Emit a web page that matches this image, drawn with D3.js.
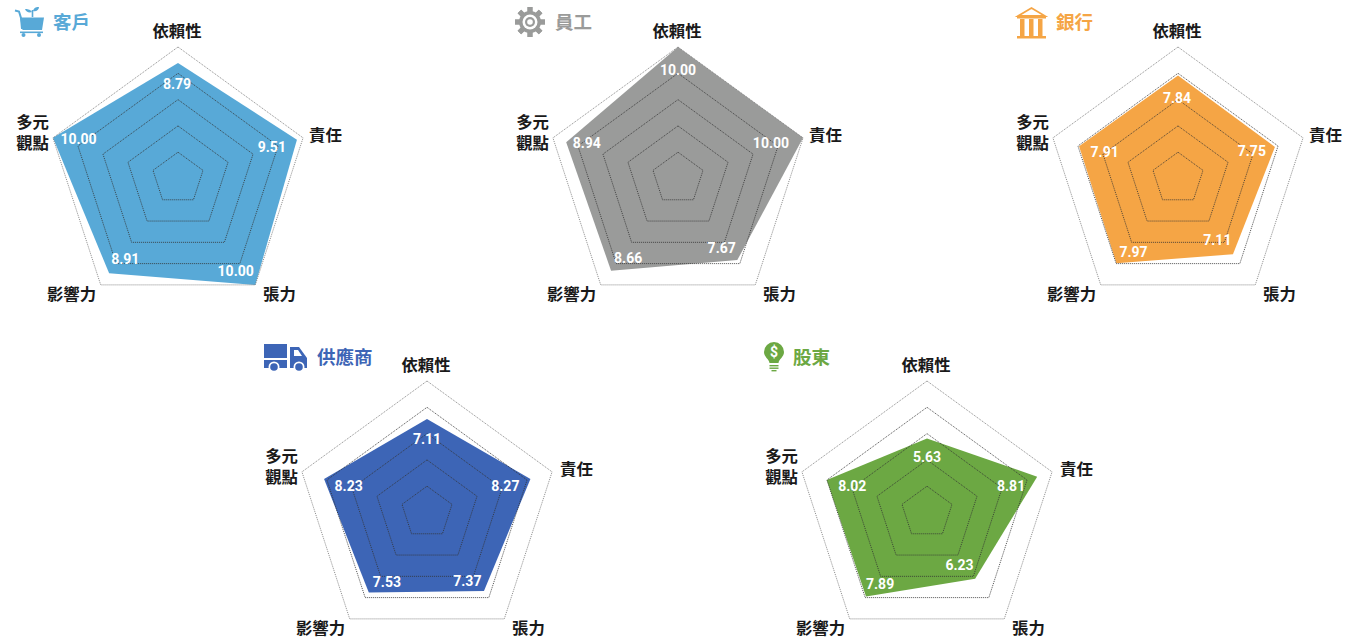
<!DOCTYPE html>
<html>
<head>
<meta charset="utf-8">
<script src="https://cdnjs.cloudflare.com/ajax/libs/d3/7.8.5/d3.min.js"></script>
<style>
  html, body { margin: 0; padding: 0; background: #fff; overflow: hidden; }
  svg { display: block; }
  text { font-family: "Noto Sans CJK TC", sans-serif; }
</style>
</head>
<body>
<div id="chart"></div>
<script>
/* five radar charts, one per stakeholder */
const axes = ['依賴性', '責任', '張力', '影響力', '多元觀點'];
const rings = [2, 4, 6, 8, 10];
const customer = [8.79, 9.51, 10, 8.91, 10];
const staff = [10, 10, 7.67, 8.66, 8.94];
const bank = [7.84, 7.75, 7.11, 7.97, 7.91];
const supplier = [7.11, 8.27, 7.37, 7.53, 8.23];
const holder = [5.63, 8.81, 6.23, 7.89, 8.02];

const W = 1346, H = 638, R = 131.5;
const r = d3.scaleLinear().domain([0, 10]).range([0, R]);
const angle = d3.scalePoint().domain(d3.range(axes.length)).range([0, 2 * Math.PI * 4 / 5]);
const radar = d3.lineRadial().angle((d, i) => angle(i)).radius(d => r(d)).curve(d3.curveLinearClosed);

const svg = d3.select('#chart').append('svg').attr('width', W).attr('height', H);

/* axis label spots, relative to chart centre */
const labelPos = [
  { dx: -1, dy: -147.5, anchor: 'middle' },
  { dx: 131, dy: -43.5, anchor: 'start' },
  { dx: 85, dy: 115.5, anchor: 'start' },
  { dx: -106.5, dy: 115.5, anchor: 'middle' },
  { dx: -129, dy: -46, anchor: 'end' }
];
/* value label offset from the polygon vertex */
const valuePos = [
  { dx: 0, dy: 21, anchor: 'middle' },
  { dx: -11, dy: 7, anchor: 'end' },
  { dx: -1.5, dy: -14, anchor: 'end' },
  { dx: 3, dy: -13, anchor: 'start' },
  { dx: 7.5, dy: 1, anchor: 'start' }
];

/* ── icons, origin at top-left of the icon box ── */
function iconCart(g, c) {
  g.append('path').attr('fill', 'none').attr('stroke', c).attr('stroke-width', 2)
    .attr('d', 'M0,0.5 L4,1.5 L6,8 L7,19');
  g.append('path').attr('fill', c).attr('d', 'M5,7.5 L29,7.5 L27,20 L7.5,20 Z');
  g.append('rect').attr('x', 5).attr('y', 21.5).attr('width', 23).attr('height', 1.6).attr('fill', c);
  g.append('path').attr('fill', 'none').attr('stroke', c).attr('stroke-width', 1.6)
    .attr('d', 'M17.5,7 L17.5,0');
  g.append('path').attr('fill', c).attr('d', 'M17,2 C15,-1 12,-1 10,-1 C11,2 14,3 17,2 Z M18,1 C19,-3 22,-3 24,-3 C24,0 21,2 18,1 Z');
  g.append('circle').attr('cx', 8.5).attr('cy', 25).attr('r', 2).attr('fill', c);
  g.append('circle').attr('cx', 24).attr('cy', 25).attr('r', 2).attr('fill', c);
}
function iconGear(g, c) {
  d3.range(8).forEach(i => {
    g.append('rect').attr('x', -2.5).attr('y', -15).attr('width', 5).attr('height', 30)
      .attr('fill', c).attr('transform', `rotate(${i * 45})`);
  });
  g.append('circle').attr('r', 11).attr('fill', c);
  g.append('circle').attr('r', 7.5).attr('fill', '#fff');
  g.append('circle').attr('r', 5).attr('fill', c);
  g.append('circle').attr('r', 2.8).attr('fill', '#fff');
}
function iconBank(g, c) {
  g.append('path').attr('fill', 'none').attr('stroke', c).attr('stroke-width', 1.8)
    .attr('d', 'M1,10 L14.5,2 L28,10 Z');
  g.append('rect').attr('x', 0).attr('y', 10).attr('width', 29).attr('height', 2.5).attr('fill', c);
  [3, 12, 21].forEach(x => {
    g.append('rect').attr('x', x).attr('y', 13).attr('width', 4.5).attr('height', 17).attr('fill', c);
  });
  g.append('rect').attr('x', 0).attr('y', 30).attr('width', 29).attr('height', 2.5).attr('fill', c);
}
function iconTruck(g, c) {
  g.append('rect').attr('x', 0).attr('y', 0).attr('width', 23).attr('height', 14).attr('fill', c);
  g.append('path').attr('fill', c).attr('d', 'M0,16 L23,16 L23,24 L0,24 Z');
  g.append('path').attr('fill', c).attr('d', 'M26,3 L35,3 L43,14 L43,24 L26,24 Z');
  g.append('path').attr('fill', '#fff').attr('d', 'M30,6 L34,6 L38,12 L30,12 Z');
  [[10, 23], [35, 23]].forEach(([x, y]) => {
    g.append('circle').attr('cx', x).attr('cy', y).attr('r', 5.5).attr('fill', '#fff');
    g.append('circle').attr('cx', x).attr('cy', y).attr('r', 3.8).attr('fill', c);
  });
}
function iconBulb(g, c) {
  g.append('path').attr('fill', c)
    .attr('d', 'M10,0 A10,10 0 0 1 20,10 C20,15 15,17 14.5,21 L5.5,21 C5,17 0,15 0,10 A10,10 0 0 1 10,0 Z');
  [23, 25.5].forEach(y => {
    g.append('rect').attr('x', 5.5).attr('y', y).attr('width', 9).attr('height', 1.4).attr('fill', c);
  });
  g.append('rect').attr('x', 7.5).attr('y', 28).attr('width', 5).attr('height', 1.4).attr('fill', c);
  g.append('text').attr('x', 10).attr('y', 14.5).attr('text-anchor', 'middle')
    .attr('font-size', 14).attr('font-weight', 700).attr('fill', '#fff')
    .style('font-family', 'Roboto, sans-serif').text('$');
}

function drawRadar(o) {
  const g = svg.append('g').attr('transform', `translate(${o.cx},${o.cy})`);

  g.append('path').datum(o.values)
    .attr('d', radar).attr('fill', o.color);

  /* grid rings sit on top of the fill */
  rings.forEach(v => {
    g.append('path').datum(axes.map(() => v))
      .attr('d', radar).attr('fill', 'none')
      .attr('stroke', v === 10 ? '#777' : '#333').attr('stroke-width', 1)
      .attr('stroke-dasharray', '1,1').attr('opacity', 0.85);
  });

  axes.forEach((name, i) => {
    const p = labelPos[i];
    const x = p.dx + (i === 1 ? o.dutyShift : 0);
    if (name.length === 4) {
      /* two separate lines, as in the original */
      [name.slice(0, 2), name.slice(2)].forEach((line, k) => {
        g.append('text').attr('text-anchor', p.anchor)
          .attr('font-size', 16.4).attr('font-weight', 700).attr('fill', '#1a1a1a')
          .attr('x', x).attr('y', p.dy - 10.5 + k * 21).attr('dy', '0.36em').text(line);
      });
    } else {
      g.append('text').attr('text-anchor', p.anchor)
        .attr('font-size', 16.4).attr('font-weight', 700).attr('fill', '#1a1a1a')
        .attr('x', x).attr('y', p.dy).attr('dy', '0.36em').text(name);
    }
  });

  o.values.forEach((v, i) => {
    const a = angle(i), p = valuePos[i], n = o.nudge[i];
    g.append('text').attr('text-anchor', p.anchor)
      .attr('x', r(v) * Math.sin(a) + p.dx + n[0])
      .attr('y', -r(v) * Math.cos(a) + p.dy + n[1])
      .attr('dy', '0.36em')
      .style('font-family', 'Roboto, sans-serif')
      .attr('font-size', 14).attr('font-weight', 700).attr('fill', '#fff')
      .text(v.toFixed(2));
  });

  const ic = svg.append('g').attr('transform', `translate(${o.iconX},${o.iconY})`);
  o.icon(ic, o.color);
  svg.append('text').attr('x', o.titleX).attr('y', o.titleY).attr('dy', '0.36em')
    .attr('font-size', 18.5).attr('font-weight', 700).attr('fill', o.color).text(o.title);
}

drawRadar({ cx: 178, cy: 178.5, values: customer, color: '#58a9d7', title: '客戶', titleX: 53, titleY: 22, icon: iconCart, iconX: 15, iconY: 10, dutyShift: 0,
  nudge: [[-1, 0], [0, 0], [0, 0], [-1, -1], [0, 0]] });
drawRadar({ cx: 678, cy: 178.5, values: staff, color: '#9a9b9a', title: '員工', titleX: 555, titleY: 22, icon: iconGear, iconX: 530, iconY: 22, dutyShift: 0,
  nudge: [[0, 2], [-3, -2], [0, 2], [0, 0], [-1, 0]] });
drawRadar({ cx: 1178, cy: 178.5, values: bank, color: '#f5a545', title: '銀行', titleX: 1056, titleY: 22, icon: iconBank, iconX: 1017, iconY: 6, dutyShift: 0,
  nudge: [[-1, 2], [2, -3], [0, 0], [0, 2], [4, 5]] });
drawRadar({ cx: 427, cy: 512.5, values: supplier, color: '#3d65b6', title: '供應商', titleX: 317, titleY: 357, icon: iconTruck, iconX: 264, iconY: 344, dutyShift: 2,
  nudge: [[0, -1], [0, 0], [-1, 4], [1, 2], [3, 6]] });
drawRadar({ cx: 927, cy: 512.5, values: holder, color: '#6ca843', title: '股東', titleX: 793, titleY: 357, icon: iconBulb, iconX: 764, iconY: 342, dutyShift: 2,
  nudge: [[0, -3], [-1, 2], [0, 0], [-3, 1], [4, 5]] });
</script>
</body>
</html>
